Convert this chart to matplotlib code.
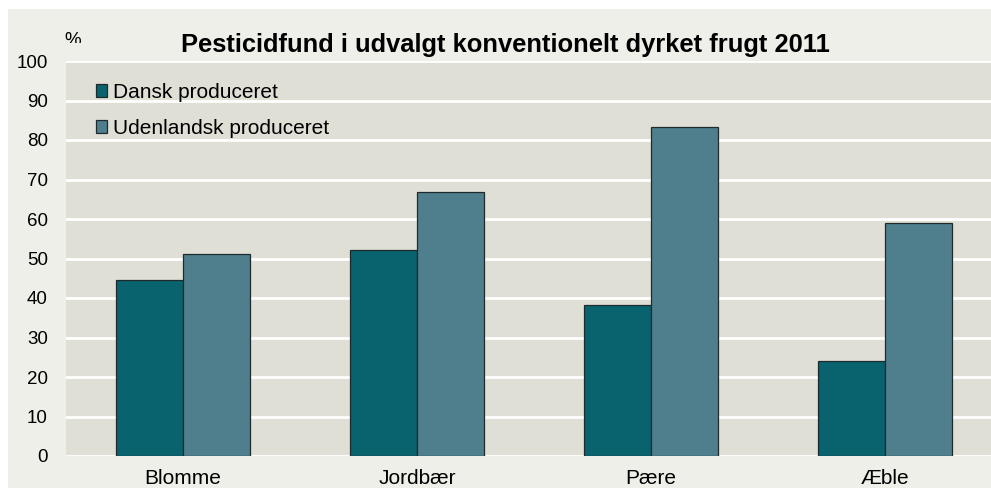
import matplotlib
matplotlib.use("Agg")
import matplotlib.pyplot as plt
import numpy as np
from matplotlib.patches import Rectangle

categories = ["Blomme", "Jordbær", "Pære", "Æble"]
dansk = [44.6, 52.2, 38.2, 24.0]
udenlandsk = [51.2, 66.8, 83.4, 59.1]
series_names = ["Dansk produceret", "Udenlandsk produceret"]
yticks = [0, 10, 20, 30, 40, 50, 60, 70, 80, 90, 100]
title = "Pesticidfund i udvalgt konventionelt dyrket frugt 2011"

plt.rcParams['font.family'] = ['Liberation Sans', 'DejaVu Sans']

W, H = 991, 488
fig = plt.figure(figsize=(W / 100, H / 100), dpi=100, facecolor="white")

# outer chart area background
fig.patches.append(Rectangle((8 / W, 0), 1, (H - 9) / H, transform=fig.transFigure,
                             facecolor="#efefe9", edgecolor="none", zorder=-10))

left, right, top, bottom = 66, 991, 61, 456
ax = fig.add_axes([left / W, (H - bottom) / H, (right - left) / W, (bottom - top) / H])
ax.set_facecolor("#e0dfd5")

x = np.arange(len(categories))
bw = 0.285
ax.bar(x - bw / 2, dansk, bw, color="#09636f", edgecolor="#1e2a2c", linewidth=0.9,
       label=series_names[0], zorder=3)
ax.bar(x + bw / 2, udenlandsk, bw, color="#4f7f8c", edgecolor="#1e2a2c", linewidth=0.9,
       label=series_names[1], zorder=3)

group = 234.0
ax.set_xlim(-0.5, -0.5 + (right - left) / group)
ax.set_ylim(0, 100)
ax.set_yticks(yticks)
ax.set_yticklabels([str(v) for v in yticks], fontsize=13.5, color="black")
ax.set_xticks(x)
ax.set_xticklabels(categories, fontsize=15, color="black")
ax.tick_params(axis="both", length=0)
ax.tick_params(axis="y", pad=13)
ax.tick_params(axis="x", pad=9.5)
ax.grid(axis="y", color="white", linewidth=2, zorder=1)
ax.set_axisbelow(True)
for s in ax.spines.values():
    s.set_visible(False)

fig.text(505 / W, 1 - 45 / H, title, ha="center", va="center", fontsize=18.4,
         fontweight="bold", color="black")
pct = fig.text(73 / W, 1 - 32 / H, "%", ha="center", va="top", fontsize=13.5, color="black")
clip = Rectangle((0, 1 - 43 / H), 1, 43 / H, transform=fig.transFigure)
pct.set_clip_path(clip)

leg = ax.legend(loc="upper left", bbox_to_anchor=(30 / (right - left), 1 - 22 / (bottom - top)),
                frameon=False, fontsize=15, handlelength=0.55, handleheight=0.55,
                handletextpad=0.25, labelspacing=0.8, borderaxespad=0, borderpad=0)

fig.savefig("out.png", dpi=100, facecolor="white")
